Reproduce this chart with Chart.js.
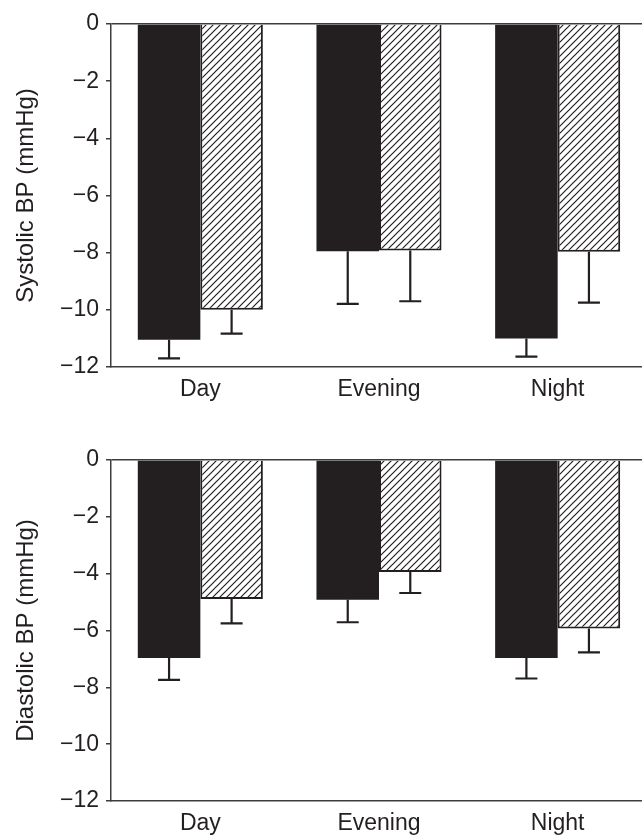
<!DOCTYPE html>
<html>
<head>
<meta charset="utf-8">
<script src="https://cdn.jsdelivr.net/npm/chart.js@4"></script>
<style>
  html, body { margin: 0; padding: 0; background: #fff; overflow: hidden; }
  .panel { position: relative; width: 650px; height: 418px; }
</style>
</head>
<body>
<div class="panel"><canvas id="sys"></canvas></div>
<div class="panel"><canvas id="dia"></canvas></div>
<script>
// data
const periods = ['Day', 'Evening', 'Night'];
const yTicks = [0, -2, -4, -6, -8, -10, -12];

const sysSolid = [-11.05, -7.95, -11.0];
const sysSolidErr = [0.65, 1.84, 0.64];
const sysHatch = [-10.0, -7.92, -7.97];
const sysHatchErr = [0.83, 1.78, 1.78];

const diaSolid = [-6.97, -4.92, -6.97];
const diaSolidErr = [0.77, 0.79, 0.72];
const diaHatch = [-4.89, -3.94, -5.93];
const diaHatchErr = [0.86, 0.74, 0.84];

const ink = '#231f20';
const axisCol = '#3c3c3c';
const fontFam = '"Liberation Sans", Arial, Helvetica, sans-serif';

// diagonal hatch fill
function hatchPattern(){
    const c = document.createElement('canvas');
    const s = 7;
    c.width = s; c.height = s;
    const g = c.getContext('2d');
    g.fillStyle = '#fff';
    g.fillRect(0, 0, s, s);
    g.strokeStyle = ink;
    g.lineWidth = 1.2;
    g.beginPath();
    g.moveTo(-1, s + 1); g.lineTo(s + 1, -1);
    g.moveTo(-1, 1); g.lineTo(1, -1);
    g.moveTo(s - 1, s + 1); g.lineTo(s + 1, s - 1);
    g.stroke();
    return g.createPattern(c, 'repeat');
}

// one-sided (downward) error bars
const errorBars = {
    id: 'errorBars',
    afterDatasetsDraw(chart){
        const ctx = chart.ctx;
        const y = chart.scales.y;
        ctx.save();
        ctx.strokeStyle = ink;
        ctx.lineWidth = 2.2;
        chart.data.datasets.forEach(function(ds, i){
            const meta = chart.getDatasetMeta(i);
            meta.data.forEach(function(bar, j){
                const v = ds.data[j];
                const y0 = y.getPixelForValue(v);
                const y1 = y.getPixelForValue(v - ds.err[j]);
                ctx.beginPath();
                ctx.moveTo(bar.x, y0);
                ctx.lineTo(bar.x, y1);
                ctx.moveTo(bar.x - 11, y1);
                ctx.lineTo(bar.x + 11, y1);
                ctx.stroke();
            });
        });
        ctx.restore();
    }
};

function makeChart(id, title, solid, solidErr, hatch, hatchErr, padTop, xHeight){
    const config = {
        type: 'bar',
        data: {
            labels: periods,
            datasets: [
                { data: solid, err: solidErr, backgroundColor: ink, borderColor: ink, borderWidth: 0 },
                { data: hatch, err: hatchErr, backgroundColor: hatchPattern(), borderColor: ink, borderWidth: 2 }
            ]
        },
        options: {
            responsive: false,
            animation: false,
            events: [],
            layout: { padding: { top: padTop, right: 3, left: 0, bottom: 0 } },
            plugins: { legend: { display: false }, tooltip: { enabled: false } },
            datasets: { bar: { categoryPercentage: 0.7, barPercentage: 1.0 } },
            scales: {
                x: {
                    afterFit: function(s){ s.height = xHeight; },
                    grid: { display: false, drawTicks: false },
                    border: { display: true, color: axisCol, width: 1.5 },
                    ticks: { color: ink, font: { family: fontFam, size: 23 }, padding: 9 }
                },
                y: {
                    min: -12, max: 0,
                    afterFit: function(s){ s.width = 111; },
                    afterBuildTicks: function(s){ s.ticks = yTicks.map(v => ({ value: v })); },
                    grid: {
                        color: c => (c.tick && c.tick.value === 0) ? axisCol : 'rgba(0,0,0,0)',
                        lineWidth: 1.5,
                        tickColor: axisCol,
                        tickLength: 5
                    },
                    border: { display: true, color: axisCol, width: 1.5 },
                    ticks: {
                        color: ink,
                        font: { family: fontFam, size: 23 },
                        padding: 7,
                        callback: v => v < 0 ? '\u2212' + Math.abs(v) : String(v)
                    },
                    title: {
                        display: true, text: title, color: ink,
                        font: { family: fontFam, size: 24 },
                        padding: { top: 12, bottom: 0 }
                    }
                }
            }
        },
        plugins: [errorBars]
    };
    const cv = document.getElementById(id);
    cv.width = 650; cv.height = 418;
    return new Chart(cv, config);
}

makeChart('sys', 'Systolic BP (mmHg)', sysSolid, sysSolidErr, sysHatch, sysHatchErr, 24, 51);
makeChart('dia', 'Diastolic BP (mmHg)', diaSolid, diaSolidErr, diaHatch, diaHatchErr, 42, 35);
</script>
</body>
</html>
